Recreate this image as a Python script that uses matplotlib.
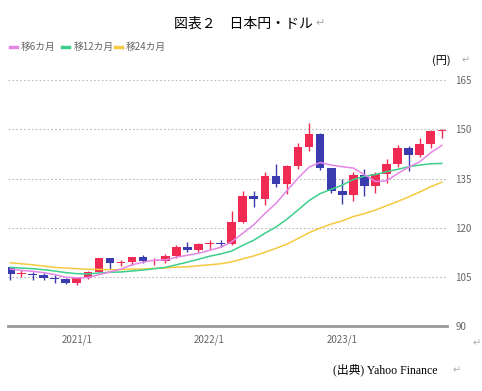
import matplotlib
matplotlib.use('Agg')
import matplotlib.pyplot as plt
import numpy as np

plt.rcParams['font.family'] = ['Noto Sans CJK JP', 'DejaVu Sans']

# monthly USD/JPY candles, 2020/7 - 2023/10
months = ['2020/7', '2020/8', '2020/9', '2020/10', '2020/11', '2020/12',
          '2021/1', '2021/2', '2021/3', '2021/4', '2021/5', '2021/6',
          '2021/7', '2021/8', '2021/9', '2021/10', '2021/11', '2021/12',
          '2022/1', '2022/2', '2022/3', '2022/4', '2022/5', '2022/6',
          '2022/7', '2022/8', '2022/9', '2022/10', '2022/11', '2022/12',
          '2023/1', '2023/2', '2023/3', '2023/4', '2023/5', '2023/6',
          '2023/7', '2023/8', '2023/9', '2023/10']
opens = [107.9, 105.9, 105.9, 105.5, 104.7, 104.3,
         103.2, 104.7, 106.6, 110.7, 109.3, 109.6,
         111.1, 109.7, 110.0, 111.3, 114.0, 113.2,
         115.1, 115.1, 115.0, 121.7, 129.8, 128.7,
         135.7, 133.2, 138.7, 144.7, 148.7, 138.1,
         131.1, 130.1, 136.2, 132.8, 136.3, 139.3,
         144.3, 142.3, 145.5, 149.4]
highs = [107.9, 107.0, 106.6, 106.1, 105.7, 104.7,
         104.9, 106.7, 110.9, 110.9, 110.2, 111.1,
         111.6, 110.8, 112.1, 114.7, 115.5, 115.2,
         116.4, 116.2, 125.1, 131.3, 131.3, 137.0,
         139.4, 139.1, 145.9, 151.9, 148.8, 138.2,
         134.8, 136.9, 137.9, 137.0, 140.9, 145.1,
         145.0, 147.4, 149.7, 150.2]
lows = [104.2, 105.1, 104.0, 104.0, 103.2, 102.9,
        102.6, 104.4, 106.4, 107.5, 108.3, 108.6,
        109.1, 108.7, 109.1, 110.8, 112.5, 112.6,
        113.5, 114.2, 114.6, 121.3, 126.4, 126.9,
        132.5, 130.4, 138.0, 143.5, 137.5, 130.6,
        127.2, 128.1, 129.6, 130.6, 133.5, 138.4,
        137.2, 141.5, 144.4, 147.3]
closes = [105.9, 105.9, 105.5, 104.7, 104.3, 103.2,
          104.7, 106.6, 110.7, 109.3, 109.6, 111.1,
          109.7, 110.0, 111.3, 114.0, 113.2, 115.1,
          115.1, 115.0, 121.7, 129.8, 128.7, 135.7,
          133.2, 138.7, 144.7, 148.7, 138.1, 131.1,
          130.1, 136.2, 132.8, 136.3, 139.3, 144.3,
          142.3, 145.5, 149.4, 149.6]

# moving averages
ma6 = [107.4, 107.0, 106.7, 106.3, 105.7, 104.9,
       104.7, 104.8, 105.7, 106.5, 107.4, 108.7,
       109.5, 110.1, 110.2, 111.0, 111.6, 112.2,
       113.1, 114.0, 115.7, 118.3, 120.9, 124.3,
       127.4, 131.3, 135.1, 138.5, 139.9, 139.1,
       138.6, 138.2, 136.2, 134.1, 134.3, 136.5,
       138.5, 140.1, 142.9, 145.1]
ma12 = [107.9, 107.7, 107.5, 107.2, 106.8, 106.3,
        106.0, 105.9, 106.2, 106.4, 106.5, 106.8,
        107.1, 107.5, 107.9, 108.7, 109.5, 110.4,
        111.3, 112.0, 112.9, 114.6, 116.2, 118.3,
        120.2, 122.6, 125.4, 128.3, 130.4, 131.7,
        133.0, 134.7, 135.7, 136.2, 137.1, 137.8,
        138.6, 139.1, 139.5, 139.6]
ma24 = [109.3, 109.0, 108.7, 108.3, 107.9, 107.7,
        107.5, 107.3, 107.3, 107.2, 107.2, 107.4,
        107.4, 107.6, 107.7, 108.0, 108.1, 108.4,
        108.7, 109.0, 109.6, 110.5, 111.4, 112.5,
        113.7, 115.0, 116.7, 118.5, 119.9, 121.1,
        122.1, 123.4, 124.3, 125.4, 126.7, 128.0,
        129.4, 130.9, 132.5, 133.9]

yticks = [90, 105, 120, 135, 150, 165]
xtick_labels = ['2021/1', '2022/1', '2023/1']

RED = '#f02a52'
BLUE = '#3b3bb0'
GRAY = '#666666'

fig = plt.figure(figsize=(4.82, 3.91), dpi=100)
ax = fig.add_axes([0.017, 0.166, 0.91, 0.629])

x = np.arange(len(months))
o = np.array(opens)
c = np.array(closes)
up = c >= o
colors = [RED if u else BLUE for u in up]

ax.vlines(x, lows, highs, colors=colors, linewidth=1, zorder=2)
body_h = np.maximum(np.abs(c - o), 0.35)
body_b = np.minimum(o, c)
ax.bar(x, body_h, bottom=body_b, width=0.78, color=colors, linewidth=0, zorder=3)

ax.plot(x, ma24, color='#f5c940', lw=1.1, zorder=4)
ax.plot(x, ma12, color='#3dcf8c', lw=1.1, zorder=4)
ax.plot(x, ma6, color='#e486e6', lw=1.1, zorder=4)

ax.set_xlim(-0.2, 39.45)
ax.set_ylim(90, 165)
for v in yticks[1:]:
    ax.axhline(v, color='#bbbbbb', lw=0.8, ls=(0, (1.5, 2)), zorder=1)
ax.axhline(90, color='#999999', lw=2, zorder=5, clip_on=False)

for s in ax.spines.values():
    s.set_visible(False)
ax.yaxis.tick_right()
ax.set_yticks(yticks)
ax.set_yticklabels([str(v) for v in yticks], fontsize=7, color=GRAY)
ax.tick_params(axis='y', length=0, pad=6)
ax.set_xticks([months.index(m) for m in xtick_labels])
ax.set_xticklabels(xtick_labels, fontsize=7, color=GRAY)
ax.tick_params(axis='x', length=0, pad=6)

# title, legend, notes
fig.text(0.505, 0.94, '図表２　日本円・ドル', ha='center', va='center', fontsize=10)
fig.text(0.665, 0.94, '↵', ha='center', va='center', fontsize=8, color='#aaaaaa',
         family=['DejaVu Sans'])

leg_items = [('移6カ月', '#e486e6', 0.021), ('移12カ月', '#3dcf8c', 0.129), ('移24カ月', '#f5c940', 0.238)]
for lab, col, lx in leg_items:
    fig.add_artist(plt.Line2D([lx, lx + 0.015], [0.88, 0.88], color=col, lw=2.5))
    fig.text(lx + 0.023, 0.88, lab, ha='left', va='center', fontsize=7, color=GRAY)

fig.text(0.935, 0.845, '(円)', ha='right', va='center', fontsize=8)
fig.text(0.965, 0.845, '↵', ha='center', va='center', fontsize=7, color='#aaaaaa',
         family=['DejaVu Sans'])
fig.text(0.988, 0.122, '↵', ha='center', va='center', fontsize=7, color='#aaaaaa',
         family=['DejaVu Sans'])
fig.text(0.69, 0.053, '(出典) Yahoo Finance', ha='left', va='center', fontsize=8.5,
         family=['Liberation Serif', 'Noto Sans CJK JP'])
fig.text(0.948, 0.053, '↵', ha='center', va='center', fontsize=7, color='#aaaaaa',
         family=['DejaVu Sans'])

fig.savefig('out.png', dpi=100)
